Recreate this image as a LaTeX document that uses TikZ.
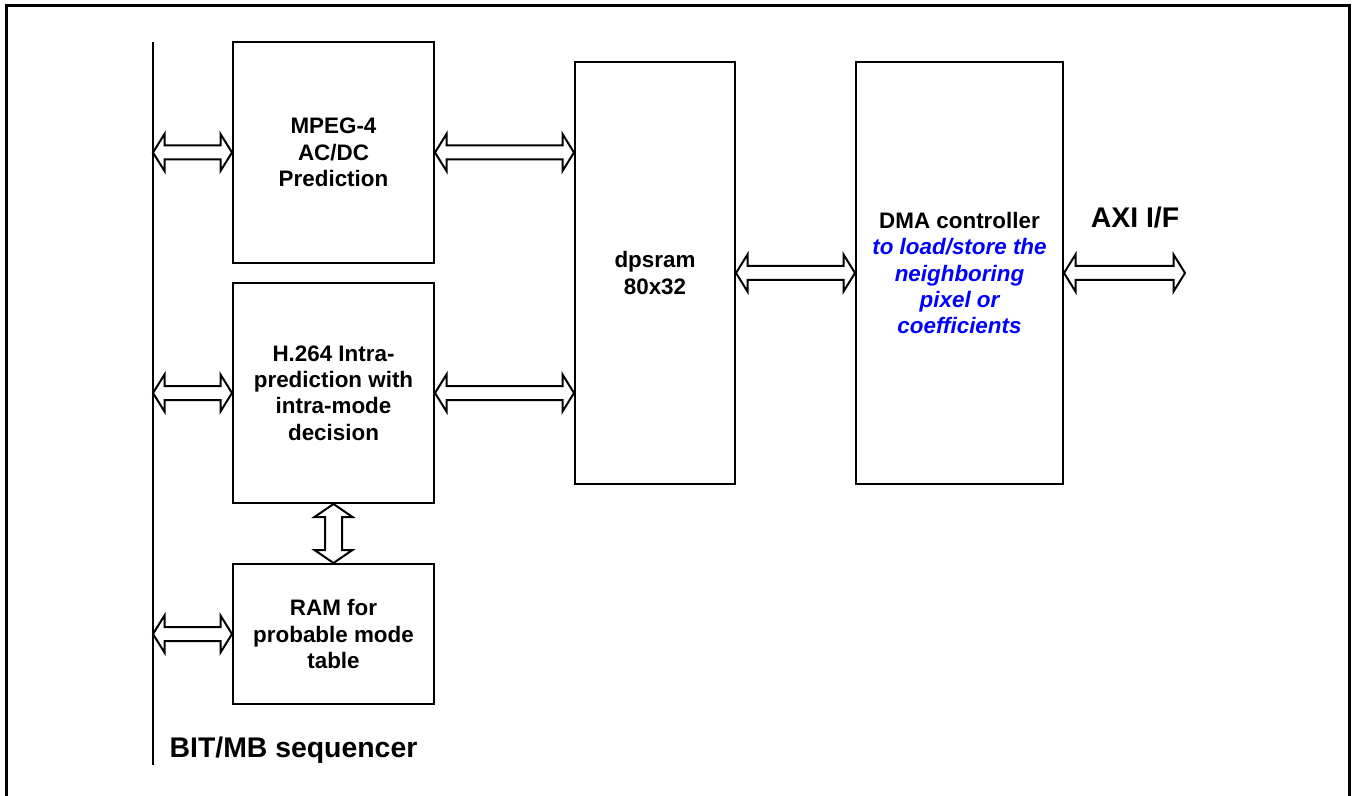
\documentclass[tikz,border=0pt]{standalone}
\usepackage{fontspec}
\setmainfont{Liberation Sans}
\usetikzlibrary{calc}
\definecolor{dmablue}{RGB}{0,0,255}
\tikzset{
  blk/.style={draw, line width=1pt, inner sep=0pt, align=center,
    font=\fontsize{11.2}{13.2}\selectfont\bfseries},
  darrow/.style={draw, line width=1pt, fill=white, line join=miter},
  biglabel/.style={font=\fontsize{14.2}{16}\selectfont\bfseries, inner sep=0pt},
  frame/.style={line width=1.5pt},
  busline/.style={line width=1pt}
}
\newcommand{\hdarr}[2]{\path[darrow] let \p1=#1, \p2=#2 in
  (\x1,\y1) -- (\x1+5.75pt,\y1+9.25pt) -- (\x1+5.75pt,\y1+3.5pt) -- (\x2-5.75pt,\y1+3.5pt)
  -- (\x2-5.75pt,\y1+9.25pt) -- (\x2,\y1) -- (\x2-5.75pt,\y1-9.25pt) -- (\x2-5.75pt,\y1-3.5pt)
  -- (\x1+5.75pt,\y1-3.5pt) -- (\x1+5.75pt,\y1-9.25pt) -- cycle;}
\newcommand{\vdarr}[2]{\path[darrow] let \p1=#1, \p2=#2 in
  (\x1,\y1) -- (\x1+9.5pt,\y1-6.5pt) -- (\x1+4.25pt,\y1-6.5pt) -- (\x1+4.25pt,\y2+6.5pt)
  -- (\x1+9.5pt,\y2+6.5pt) -- (\x1,\y2) -- (\x1-9.5pt,\y2+6.5pt) -- (\x1-4.25pt,\y2+6.5pt)
  -- (\x1-4.25pt,\y1-6.5pt) -- (\x1-9.5pt,\y1-6.5pt) -- cycle;}
\begin{document}
\begin{tikzpicture}[x=0.5pt,y=-0.5pt]
\useasboundingbox (0,0) rectangle (1353,796);
% frame
\draw[frame] (6,796) -- (6,6) -- (1349,6) -- (1349,796);
% bus
\coordinate (bustop) at (153,42);
\coordinate (busbot) at (153,765);
\draw[busline] (bustop) -- (busbot);
% blocks
\node[blk, minimum width=100.5pt, minimum height=110.5pt] (mpeg) at (333.5,152.5)
  {MPEG-4\\AC/DC\\Prediction};
\node[blk, minimum width=100.5pt, minimum height=110pt] (h264) at (333.5,393)
  {H.264 Intra-\\prediction with\\intra-mode\\decision};
\node[blk, minimum width=100.5pt, minimum height=70pt] (ram) at (333.5,634)
  {RAM for\\probable mode\\table};
\node[blk, minimum width=80pt, minimum height=211pt] (dpsram) at (655,273)
  {dpsram\\80x32};
\node[blk, minimum width=103.5pt, minimum height=211pt] (dma) at (959.5,273)
  {DMA controller\\{\color{dmablue}\itshape to load/store the}\\{\color{dmablue}\itshape neighboring}\\{\color{dmablue}\itshape pixel or}\\{\color{dmablue}\itshape coefficients}};
% labels
\node[biglabel] (axi) at (1135,217) {AXI I/F};
\node[biglabel] (seq) at (293.5,750) {BIT/MB sequencer};
\coordinate (axiend) at (1185,272.5);
% connectors
\hdarr{(bustop |- mpeg.west)}{(mpeg.west)}
\hdarr{(mpeg.east)}{(dpsram.west |- mpeg.east)}
\hdarr{(bustop |- h264.west)}{(h264.west)}
\hdarr{(h264.east)}{(dpsram.west |- h264.east)}
\vdarr{(h264.south)}{(ram.north)}
\hdarr{(bustop |- ram.west)}{(ram.west)}
\hdarr{(dpsram.east)}{(dma.west)}
\hdarr{(dma.east)}{(axiend)}
\end{tikzpicture}
\end{document}
